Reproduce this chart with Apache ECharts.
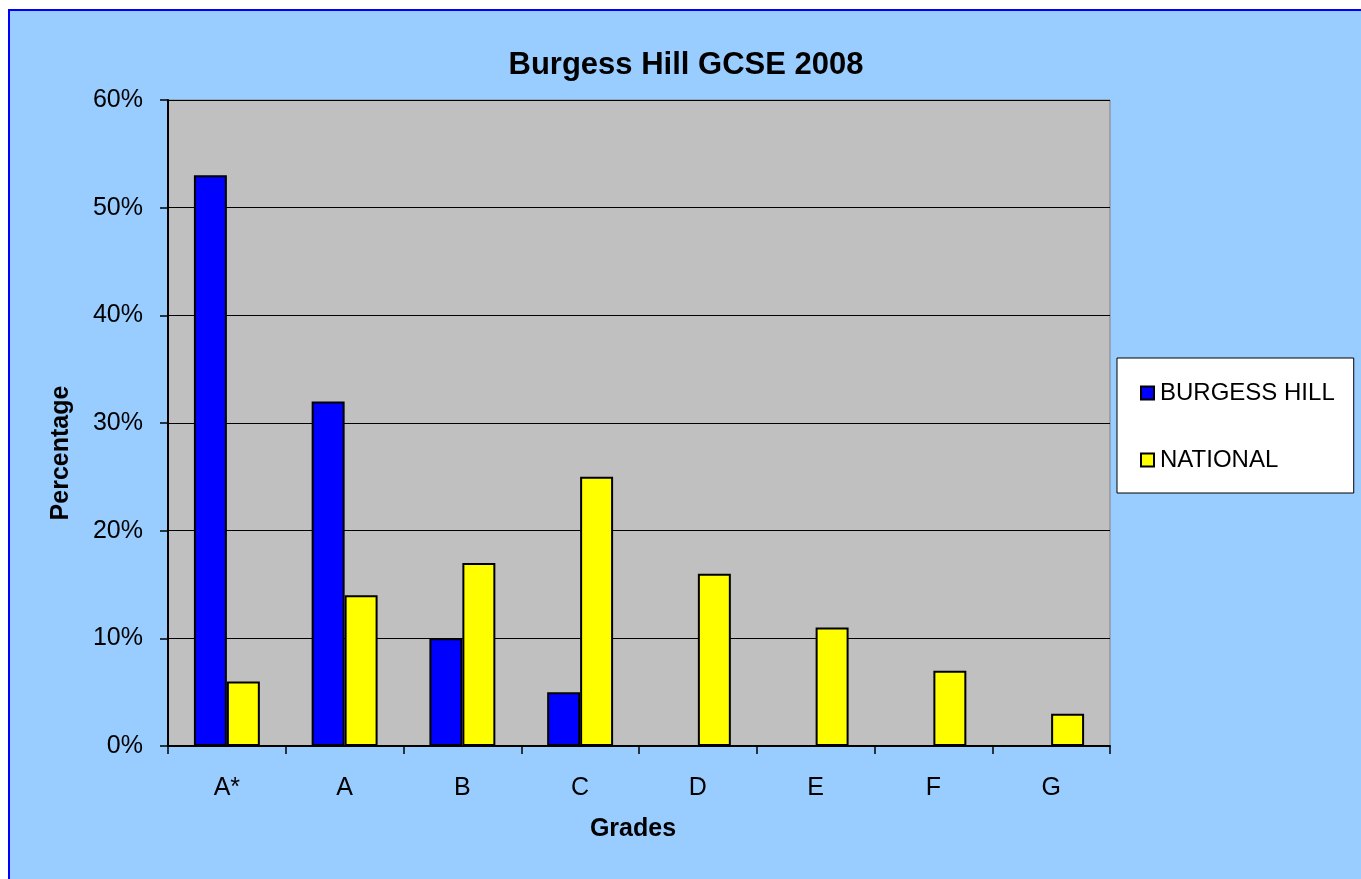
<!DOCTYPE html>
<html>
<head>
<meta charset="utf-8">
<script src="https://cdn.jsdelivr.net/npm/echarts@6/dist/echarts.min.js"></script>
<style>
  body { margin: 0; background: #fff; }
  #frame { position: absolute; left: 8px; top: 9px; width: 1400px; height: 900px;
           border-left: 2px solid #0000ff; border-top: 2px solid #0000ff; background: #99ccff; }
  #main { position: absolute; left: 0; top: 0; width: 1361px; height: 879px; }
</style>
</head>
<body>
<div id="frame"></div>
<div id="main"></div>
<script>
// 成绩等级
var grades = ['A*', 'A', 'B', 'C', 'D', 'E', 'F', 'G']
// 百分比
var burgessHill = [53, 32, 10, 5, 0, 0, 0, 0]
var national = [6, 14, 17, 25, 16, 11, 7, 3]

var font = 'Liberation Sans, Arial, sans-serif'

var mychart = echarts.init(document.getElementById('main'))
mychart.setOption({
  animation: false,
  textStyle: { fontFamily: font },
  title: {
    text: 'Burgess Hill GCSE 2008',
    left: 681,
    top: 45,
    textAlign: 'center',
    textStyle: { fontSize: 31, fontWeight: 'bold', color: '#000', fontFamily: font }
  },
  legend: {
    orient: 'vertical',
    left: 1117,
    top: 358,
    backgroundColor: '#fff',
    borderColor: '#000',
    borderWidth: 1,
    padding: [23, 19, 21, 23],
    itemGap: 43,
    itemWidth: 13,
    itemHeight: 13,
    icon: 'rect',
    textStyle: { fontSize: 24, lineHeight: 24, color: '#000', fontFamily: font, padding: [0, 0, 0, 1] },
    data: ['BURGESS HILL', 'NATIONAL']
  },
  grid: {
    left: 168,
    top: 100,
    right: 251,
    bottom: 133,
    show: true,
    backgroundColor: '#c0c0c0',
    borderColor: '#808080',
    borderWidth: 1
  },
  xAxis: {
    type: 'category',
    data: grades,
    name: 'Grades',
    nameLocation: 'middle',
    nameGap: 71,
    nameTextStyle: { fontSize: 25, fontWeight: 'bold', color: '#000', padding: [0, 12, 0, 0] },
    axisLine: { lineStyle: { color: '#000', width: 2 } },
    axisTick: { show: true, length: 8, lineStyle: { color: '#000', width: 1.5 } },
    axisLabel: { fontSize: 25, color: '#000', margin: 30 }
  },
  yAxis: {
    type: 'value',
    min: 0,
    max: 60,
    interval: 10,
    name: 'Percentage',
    nameLocation: 'middle',
    nameGap: 94,
    nameTextStyle: { fontSize: 25, fontWeight: 'bold', color: '#000', padding: [0, 60, 0, 0] },
    axisLine: { show: true, lineStyle: { color: '#000', width: 2 } },
    axisTick: { show: true, length: 8, lineStyle: { color: '#000', width: 1.5 } },
    axisLabel: { fontSize: 25, color: '#000', margin: 25, formatter: '{value}%' },
    splitLine: { lineStyle: { color: '#000', width: 1 } }
  },
  series: [
    {
      name: 'BURGESS HILL',
      type: 'bar',
      data: burgessHill,
      barGap: '0%',
      barCategoryGap: '44%',
      itemStyle: { color: '#0000ff', borderColor: '#000', borderWidth: 2 }
    },
    {
      name: 'NATIONAL',
      type: 'bar',
      data: national,
      barGap: '0%',
      barCategoryGap: '44%',
      itemStyle: { color: '#ffff00', borderColor: '#000', borderWidth: 2 }
    }
  ]
})
</script>
</body>
</html>
